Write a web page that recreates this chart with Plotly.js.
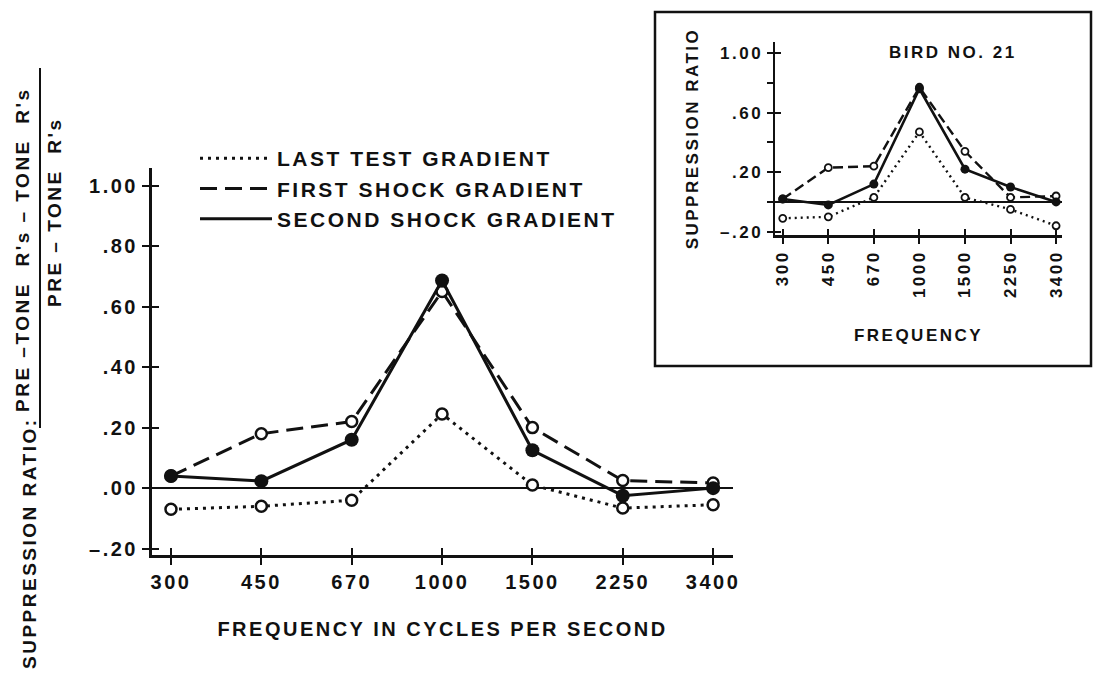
<!DOCTYPE html>
<html>
<head>
<meta charset="utf-8">
<script src="https://cdn.plot.ly/plotly-3.0.1.min.js"></script>
<style>
html,body{margin:0;padding:0;background:#fff;}
#chart{width:1097px;height:683px;}
svg text{letter-spacing:2.5px;}
</style>
</head>
<body>
<div id="chart"></div>
<script>
// ---- data ----
const categories = ['300', '450', '670', '1000', '1500', '2250', '3400'];
const seriesNames = ['LAST TEST GRADIENT', 'FIRST SHOCK GRADIENT', 'SECOND SHOCK GRADIENT'];

// main panel (group gradient)
const lastTest    = [-0.07, -0.06, -0.04, 0.245, 0.01, -0.066, -0.055];
const firstShock  = [0.04, 0.18, 0.22, 0.65, 0.20, 0.025, 0.017];
const secondShock = [0.04, 0.023, 0.16, 0.686, 0.125, -0.025, 0.0];

// inset (Bird No. 21)
const insetLast   = [-0.11, -0.10, 0.03, 0.47, 0.03, -0.05, -0.16];
const insetFirst  = [0.02, 0.23, 0.24, 0.77, 0.34, 0.03, 0.04];
const insetSecond = [0.02, -0.02, 0.12, 0.76, 0.22, 0.10, 0.0];

const mainYTickVals = [-0.2, 0, 0.2, 0.4, 0.6, 0.8, 1.0];
const mainYTickText = ['–.20', '.00', '.20', '.40', '.60', '.80', '1.00'];
const insetYTickVals = [-0.2, 0, 0.2, 0.4, 0.6, 0.8, 1.0];
const insetYTickText = ['–.20', '', '.20', '', '.60', '', '1.00'];
const insetYMajor = [-0.2, 0.2, 0.6, 1.0];

// ---- layout helpers (pixel -> paper) ----
const W = 1097, H = 683;
const px = x => x / W;
const py = y => 1 - y / H;

const FONT = 'Liberation Sans, Arial, sans-serif';
const ink = '#111';
const idx = categories.map((c, i) => i);

const mainStyles = [
  {dash: '3px,5px', width: 3, open: true},
  {dash: '17px,8px', width: 3, open: true},
  {dash: 'solid', width: 3, open: false}
];
const insetStyles = [
  {dash: '2px,4px', width: 2.4, open: true},
  {dash: '10px,5px', width: 2.4, open: true},
  {dash: 'solid', width: 2.6, open: false}
];

function mk(y, st, xa, ya, big) {
  return {
    x: categories, y: y, xaxis: xa, yaxis: ya, type: 'scatter', mode: 'lines+markers',
    showlegend: false, hoverinfo: 'skip',
    line: {color: ink, width: st.width, dash: st.dash},
    marker: st.open
      ? {symbol: 'circle', size: big ? 11 : 7, color: 'white', line: {color: ink, width: big ? 2.5 : 1.8}}
      : {symbol: 'circle', size: big ? 14 : 9, color: ink, line: {color: ink, width: 0}}
  };
}

const traces = [
  mk(lastTest, mainStyles[0], 'x', 'y', true),
  mk(firstShock, mainStyles[1], 'x', 'y', true),
  mk(secondShock, mainStyles[2], 'x', 'y', true),
  mk(insetLast, insetStyles[0], 'x2', 'y2', false),
  mk(insetFirst, insetStyles[1], 'x2', 'y2', false),
  mk(insetSecond, insetStyles[2], 'x2', 'y2', false),
  // empty traces so the overlay axes (inner half of the crossing ticks) are drawn
  {x: [null], y: [null], xaxis: 'x3', yaxis: 'y3', type: 'scatter', mode: 'lines', showlegend: false, hoverinfo: 'skip'},
  {x: [null], y: [null], xaxis: 'x4', yaxis: 'y4', type: 'scatter', mode: 'lines', showlegend: false, hoverinfo: 'skip'}
];
// legend entries (line samples only, as in the figure)
seriesNames.forEach((name, i) => {
  traces.push({
    x: [null], y: [null], xaxis: 'x', yaxis: 'y', type: 'scatter', mode: 'lines', name: name,
    showlegend: true, hoverinfo: 'skip',
    line: {color: ink, width: mainStyles[i].width, dash: mainStyles[i].dash}
  });
});

const tickFontMain = {family: FONT, size: 20, color: ink, weight: 'bold'};
const tickFontInset = {family: FONT, size: 17, color: ink, weight: 'bold'};

const mainXRange = [-0.21, 6.22];
const mainYRange = [-0.221, 1.058];
const insetXRange = [-0.17, 6.13];
const insetYRange = [-0.222, 1.074];

const mainXDomain = [px(152), px(733)];
const mainYDomain = [py(555), py(168)];
const insetXDomain = [px(775), px(1062)];
const insetYDomain = [py(235), py(42)];

const crossTick = {ticklen: 7, tickwidth: 2, tickcolor: ink};
const crossTickInset = {ticklen: 6, tickwidth: 2, tickcolor: ink};

const layout = {
  width: W, height: H, autosize: false,
  margin: {l: 0, r: 0, t: 0, b: 0, pad: 0},
  paper_bgcolor: 'white', plot_bgcolor: 'rgba(0,0,0,0)',
  font: {family: FONT, color: ink, weight: 'bold'},
  showlegend: true,
  legend: {
    x: px(195), y: py(138), xanchor: 'left', yanchor: 'top',
    font: {family: FONT, size: 21, color: ink, weight: 'bold'},
    bgcolor: 'rgba(0,0,0,0)', borderwidth: 0, itemwidth: 72, tracegroupgap: 0
  },
  xaxis: Object.assign({
    domain: mainXDomain, anchor: 'y', type: 'category',
    categoryorder: 'array', categoryarray: categories, range: mainXRange,
    showline: true, linewidth: 3, linecolor: ink, mirror: false,
    ticks: 'outside', showgrid: false, zeroline: false, tickfont: tickFontMain,
    title: {text: 'FREQUENCY IN CYCLES PER SECOND', standoff: 30,
            font: {family: FONT, size: 20, color: ink, weight: 'bold'}}
  }, crossTick),
  xaxis3: Object.assign({
    overlaying: 'x', anchor: 'y3', type: 'linear', range: mainXRange,
    tickmode: 'array', tickvals: idx, showticklabels: false, ticks: 'inside',
    showline: false, showgrid: false, zeroline: false
  }, crossTick),
  yaxis: Object.assign({
    domain: mainYDomain, anchor: 'x', range: mainYRange,
    tickmode: 'array', tickvals: mainYTickVals, ticktext: mainYTickText,
    showline: true, linewidth: 3, linecolor: ink, ticks: 'outside',
    showgrid: false, zeroline: true, zerolinewidth: 2, zerolinecolor: ink,
    tickfont: tickFontMain
  }, crossTick),
  yaxis3: Object.assign({
    overlaying: 'y', anchor: 'x3', range: mainYRange,
    tickmode: 'array', tickvals: mainYTickVals, showticklabels: false, ticks: 'inside',
    showline: false, showgrid: false, zeroline: false
  }, crossTick),
  xaxis2: Object.assign({
    domain: insetXDomain, anchor: 'y2', type: 'category',
    categoryorder: 'array', categoryarray: categories, range: insetXRange,
    showline: true, linewidth: 2.5, linecolor: ink, ticks: 'outside', tickangle: -90,
    showgrid: false, zeroline: false, tickfont: tickFontInset,
    title: {text: 'FREQUENCY', standoff: 32,
            font: {family: FONT, size: 17, color: ink, weight: 'bold'}}
  }, crossTickInset),
  xaxis4: Object.assign({
    overlaying: 'x2', anchor: 'y4', type: 'linear', range: insetXRange,
    tickmode: 'array', tickvals: idx, showticklabels: false, ticks: 'inside',
    showline: false, showgrid: false, zeroline: false
  }, crossTickInset),
  yaxis2: Object.assign({
    domain: insetYDomain, anchor: 'x2', range: insetYRange,
    tickmode: 'array', tickvals: insetYTickVals, ticktext: insetYTickText,
    showline: true, linewidth: 2.5, linecolor: ink, ticks: 'outside',
    showgrid: false, zeroline: true, zerolinewidth: 2, zerolinecolor: ink,
    tickfont: tickFontInset,
    title: {text: 'SUPPRESSION RATIO', standoff: 17,
            font: {family: FONT, size: 17, color: ink, weight: 'bold'}}
  }, crossTickInset),
  yaxis4: Object.assign({
    overlaying: 'y2', anchor: 'x4', range: insetYRange,
    tickmode: 'array', tickvals: insetYMajor, showticklabels: false, ticks: 'inside',
    showline: false, showgrid: false, zeroline: false
  }, crossTickInset),
  shapes: [
    // inset frame
    {type: 'rect', xref: 'paper', yref: 'paper', x0: px(655), x1: px(1091), y0: py(366), y1: py(12),
     line: {color: ink, width: 2.5}, fillcolor: 'rgba(0,0,0,0)'},
    // fraction bar of the y-axis label
    {type: 'line', xref: 'paper', yref: 'paper', x0: px(40), x1: px(40), y0: py(428), y1: py(68),
     line: {color: ink, width: 2}}
  ],
  annotations: [
    {xref: 'paper', yref: 'paper', x: px(29), y: py(543), textangle: -90, showarrow: false,
     xanchor: 'center', yanchor: 'middle', text: 'SUPPRESSION RATIO:',
     font: {family: FONT, size: 19, color: ink, weight: 'bold'}},
    {xref: 'paper', yref: 'paper', x: px(22), y: py(250), textangle: -90, showarrow: false,
     xanchor: 'center', yanchor: 'middle', text: "PRE –TONE  R's – TONE  R's",
     font: {family: FONT, size: 19, color: ink, weight: 'bold'}},
    {xref: 'paper', yref: 'paper', x: px(54), y: py(212), textangle: -90, showarrow: false,
     xanchor: 'center', yanchor: 'middle', text: "PRE – TONE  R's",
     font: {family: FONT, size: 19, color: ink, weight: 'bold'}},
    {xref: 'paper', yref: 'paper', x: px(953), y: py(52), showarrow: false,
     xanchor: 'center', yanchor: 'middle', text: 'BIRD NO. 21',
     font: {family: FONT, size: 17, color: ink, weight: 'bold'}}
  ]
};

Plotly.newPlot('chart', traces, layout, {staticPlot: true, displayModeBar: false});
</script>
</body>
</html>
